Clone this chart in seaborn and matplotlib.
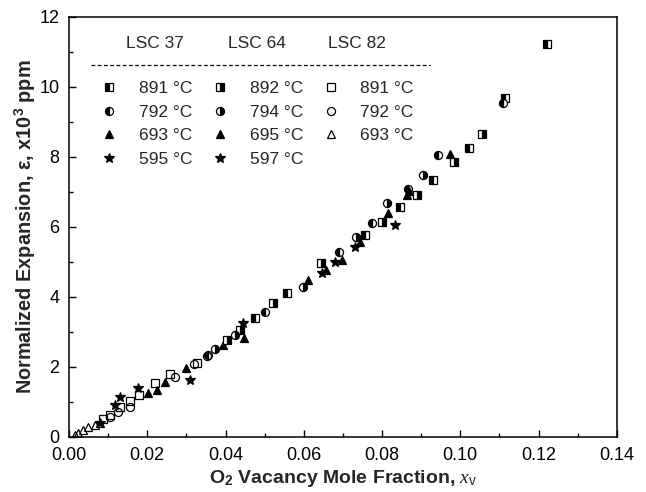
import matplotlib
matplotlib.use("Agg")
import matplotlib.pyplot as plt
import seaborn as sns
from matplotlib.lines import Line2D
from matplotlib.ticker import MultipleLocator

# LSC 37
x37_891 = [0.0475, 0.0557, 0.0756, 0.0846, 0.0930, 0.1022, 0.1113, 0.1222]
y37_891 = [3.40, 4.11, 5.77, 6.57, 7.34, 8.26, 9.69, 11.22]
x37_792 = [0.0355, 0.0500, 0.0690, 0.0774, 0.0866, 0.0943, 0.1109]
y37_792 = [2.34, 3.57, 5.29, 6.11, 7.08, 8.06, 9.54]
x37_693 = [0.0202, 0.0245, 0.0394, 0.0610, 0.0697, 0.0815, 0.0973]
y37_693 = [1.25, 1.57, 2.63, 4.49, 5.06, 6.40, 8.09]
x37_595 = [0.0080, 0.0118, 0.0130, 0.0176, 0.0309]
y37_595 = [0.40, 0.91, 1.14, 1.40, 1.63]

# LSC 64
x64_892 = [0.0403, 0.0437, 0.0521, 0.0644, 0.0800, 0.0889, 0.0984, 0.1055]
y64_892 = [2.77, 3.06, 3.83, 4.97, 6.14, 6.91, 7.86, 8.66]
x64_794 = [0.0373, 0.0424, 0.0598, 0.0733, 0.0812, 0.0905]
y64_794 = [2.51, 2.91, 4.29, 5.71, 6.69, 7.49]
x64_695 = [0.0225, 0.0300, 0.0447, 0.0657, 0.0743, 0.0864, 0.0870]
y64_695 = [1.34, 1.97, 2.83, 4.77, 5.57, 6.91, 7.02]
x64_597 = [0.0445, 0.0646, 0.0680, 0.0730, 0.0833]
y64_597 = [3.26, 4.69, 5.00, 5.43, 6.06]

# LSC 82
x82_891 = [0.0087, 0.0105, 0.0130, 0.0156, 0.0179, 0.0220, 0.0258, 0.0327]
y82_891 = [0.50, 0.63, 0.86, 1.02, 1.20, 1.54, 1.80, 2.11]
x82_792 = [0.0105, 0.0126, 0.0156, 0.0270, 0.0320, 0.0352]
y82_792 = [0.57, 0.71, 0.86, 1.71, 2.08, 2.30]
x82_693 = [0.0015, 0.0023, 0.0036, 0.0049, 0.0066, 0.0080]
y82_693 = [0.06, 0.11, 0.20, 0.29, 0.34, 0.40]

sns.set_theme(style="ticks")
plt.rcParams["font.family"] = ["Liberation Sans", "DejaVu Sans"]
plt.rcParams["mathtext.fontset"] = "custom"
plt.rcParams["mathtext.rm"] = "Liberation Sans"
plt.rcParams["mathtext.bf"] = "Liberation Sans:bold"
plt.rcParams["mathtext.it"] = "Liberation Serif:italic"

fig = plt.figure(figsize=(6.46, 4.92), dpi=100)
ax = fig.add_axes([0.1068, 0.1118, 0.848, 0.8537])

series = [
    (x37_891, y37_891, "s", "left", "891 °C"),
    (x37_792, y37_792, "o", "left", "792 °C"),
    (x37_693, y37_693, "^", "full", "693 °C"),
    (x37_595, y37_595, "*", "full", "595 °C"),
    (x64_892, y64_892, "s", "right", "892 °C"),
    (x64_794, y64_794, "o", "right", "794 °C"),
    (x64_695, y64_695, "^", "full", "695 °C"),
    (x64_597, y64_597, "*", "full", "597 °C"),
    (x82_891, y82_891, "s", "none", "891 °C"),
    (x82_792, y82_792, "o", "none", "792 °C"),
    (x82_693, y82_693, "^", "none", "693 °C"),
]

for xs, ys, m, fs, lab in series:
    ms = 7.5 if m == "*" else 5.8
    sns.lineplot(x=xs, y=ys, ax=ax, estimator=None, sort=False,
                 linestyle="none", marker=m, fillstyle=fs, color="black",
                 markeredgecolor="black", markerfacecoloralt="white",
                 markeredgewidth=0.9, markersize=ms, label=lab)

handles, labels = ax.get_legend_handles_labels()
handles.append(Line2D([], [], linestyle="none"))
labels.append("")
ax.legend(handles, labels, ncol=3, loc="upper left",
          bbox_to_anchor=(0.045, 0.865), frameon=False, fontsize=12.5,
          handlelength=1.0, handletextpad=1.2, columnspacing=1.1,
          labelspacing=0.5, borderaxespad=0)

for xt, t in [(0.157, "LSC 37"), (0.343, "LSC 64"), (0.526, "LSC 82")]:
    ax.text(xt, 0.936, t, transform=ax.transAxes, ha="center", va="center",
            fontsize=12.5)
ax.plot([0.040, 0.659], [0.886, 0.886], transform=ax.transAxes,
        color="black", linestyle=(0, (3, 2)), linewidth=0.9)

ax.set_xlim(0, 0.14)
ax.set_ylim(0, 12)
ax.xaxis.set_major_locator(MultipleLocator(0.02))
ax.xaxis.set_minor_locator(MultipleLocator(0.01))
ax.yaxis.set_major_locator(MultipleLocator(2))
ax.yaxis.set_minor_locator(MultipleLocator(1))
ax.xaxis.set_major_formatter(matplotlib.ticker.FormatStrFormatter("%.2f"))
ax.tick_params(which="both", direction="in", colors="black", labelsize=13,
               top=False, right=False, pad=7)
ax.tick_params(which="major", length=5, width=1)
ax.tick_params(which="minor", length=3, width=1)
for s in ax.spines.values():
    s.set_visible(True)
    s.set_color("black")
    s.set_linewidth(1.1)

ax.set_xlabel(r"O$_{\mathbf{2}}$ Vacancy Mole Fraction, $\mathit{x}_{\mathrm{v}}$",
              fontsize=14, fontweight="bold", labelpad=3)
ax.set_ylabel(r"Normalized Expansion, ε, x10$^{\mathbf{3}}$ ppm",
              fontsize=14.3, fontweight="bold", labelpad=1)

fig.savefig("out.png", dpi=100)
